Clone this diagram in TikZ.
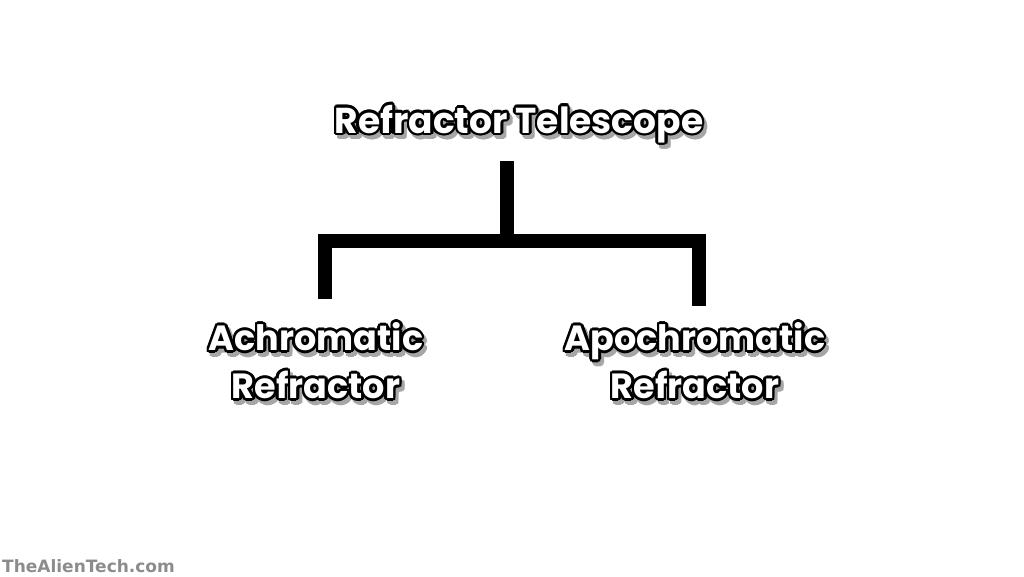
\documentclass[tikz,border=0pt]{standalone}
\usepackage{fontspec}
\usepackage[copies]{contour}
\setmainfont{Poppins}
\newfontfamily\markfont{DejaVu Sans}
\contourlength{2.6pt}

% white letters with a black rim and a grey shadow
\newcommand{\cartoon}[1]{\leavevmode\rlap{\hspace{3pt}\raisebox{-4pt}{\contour{black!35}{\textcolor{black!35}{#1}}}}\contour{black}{\textcolor{white}{#1}}}

\tikzset{
    heading/.style={inner sep=0pt, align=center, font=\bfseries\fontsize{35}{48}\selectfont},
    bar/.style={line width=14pt, line join=miter, line cap=butt}
}

\begin{document}
\begin{tikzpicture}[x=1pt, y=-1pt]

    % 0. page frame, same size as the reference
    \useasboundingbox[fill=white] (0,0) rectangle (1024,576);

    % 1. the three titles
    \node[heading, font=\bfseries\fontsize{36}{48}\selectfont] (refr) at (519,127) {\cartoon{Refractor Telescope}};
    \node[heading] (achro) at (316,364) {\cartoon{Achromatic}\\\cartoon{Refractor}};
    \node[heading] (apo) at (695,364) {\cartoon{Apochromatic}\\\cartoon{Refractor}};

    % 2. ends of the bracket
    \coordinate (stemtop) at (507,161);
    \coordinate (fork) at (507,241);
    \coordinate (achrotip) at (325,299);
    \coordinate (apotip) at (699,306);

    % 3. the bracket
    \draw[bar] (stemtop) -- (fork);
    \draw[bar] (achrotip) -- (achrotip |- fork) -- (apotip |- fork) -- (apotip);

    % 4. watermark
    \node[anchor=west, inner sep=0pt, text=black!45, font=\markfont\bfseries\fontsize{17}{17}\selectfont] (mark) at (2,566) {TheAlienTech.com};

\end{tikzpicture}
\end{document}
